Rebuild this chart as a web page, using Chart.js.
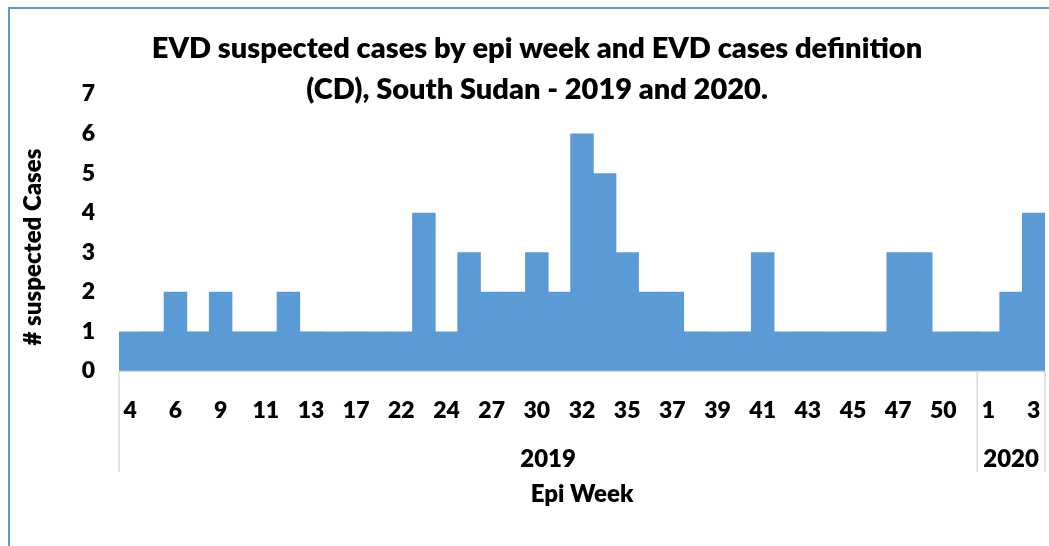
<!DOCTYPE html>
<html>
<head>
<meta charset="utf-8">
<script src="https://cdn.jsdelivr.net/npm/chart.js@4"></script>
<style>
  html, body { margin: 0; padding: 0; background: #fff; }
  #wrap { position: relative; width: 1049px; height: 546px; }
</style>
</head>
<body>
<div id="wrap"><canvas id="myChart" width="1049" height="546"></canvas></div>
<script>
// Epi weeks for each year (label shown on every other week)
const weeks2019 = [4, 5, 6, 8, 9, 10, 11, 12, 13, 14, 17, 18, 22, 23, 24, 26, 27, 28, 30, 31,
  32, 33, 35, 36, 37, 38, 39, 40, 41, 42, 43, 44, 45, 46, 47, 48, 50, 51];
const weeks2020 = [1, 2, 3];

// Suspected cases per epi week
const cases2019 = [1, 1, 2, 1, 2, 1, 1, 2, 1, 1, 1, 1, 1, 4, 1, 3, 2, 2, 3, 2,
  6, 5, 3, 2, 2, 1, 1, 1, 3, 1, 1, 1, 1, 1, 3, 3, 1, 1];
const cases2020 = [1, 2, 4];

const years = ["2019", "2020"];
const yTicks = [0, 1, 2, 3, 4, 5, 6, 7];

const titleLines = ["EVD suspected cases by epi week and EVD cases definition",
  "(CD), South Sudan - 2019 and 2020."];

const labels = weeks2019.concat(weeks2020).map(String);
const values = cases2019.concat(cases2020);
const groupSizes = [weeks2019.length, weeks2020.length];

const FONT = "Lato, 'Open Sans', sans-serif";
const WEIGHT = "800";

// Draws frame, title, year row, separators and axis titles
const decorations = {
  id: "decorations",
  afterDraw(chart) {
    const ctx = chart.ctx;
    const area = chart.chartArea;
    const x = chart.scales.x;
    const step = x.getPixelForValue(1) - x.getPixelForValue(0);

    ctx.save();
    // outer frame
    ctx.strokeStyle = "#5B9BD5";
    ctx.lineWidth = 2;
    ctx.beginPath();
    ctx.moveTo(9, 560);
    ctx.lineTo(9, 8);
    ctx.lineTo(1060, 8);
    ctx.stroke();

    // axis line and group separators
    ctx.strokeStyle = "#D9D9D9";
    ctx.lineWidth = 1.5;
    ctx.beginPath();
    ctx.moveTo(area.left, area.bottom + 0.5);
    ctx.lineTo(area.right, area.bottom + 0.5);
    let start = 0;
    const bounds = [area.left];
    groupSizes.forEach((n) => {
      start += n;
      bounds.push(x.getPixelForValue(start - 1) + step / 2);
    });
    bounds.forEach((bx) => {
      ctx.moveTo(bx, area.bottom);
      ctx.lineTo(bx, 472);
    });
    ctx.stroke();

    // year labels
    ctx.fillStyle = "#000";
    ctx.font = WEIGHT + " 24px " + FONT;
    ctx.textAlign = "center";
    ctx.textBaseline = "middle";
    years.forEach((yr, i) => {
      ctx.fillText(yr, (bounds[i] + bounds[i + 1]) / 2, 459);
    });

    // x axis title
    ctx.fillText("Epi Week", (area.left + area.right) / 2, 494);

    // y axis title
    ctx.save();
    ctx.translate(33, 247);
    ctx.rotate(-Math.PI / 2);
    ctx.fillText("# suspected Cases", 0, 0);
    ctx.restore();

    // chart title
    ctx.font = WEIGHT + " 29px " + FONT;
    ctx.fillText(titleLines[0], 537, 49);
    ctx.fillText(titleLines[1], 537, 90);
    ctx.restore();
  }
};

new Chart(document.getElementById("myChart").getContext("2d"), {
  type: "bar",
  data: {
    labels: labels,
    datasets: [{
      label: "# suspected Cases",
      data: values,
      backgroundColor: "#5B9BD5",
      borderWidth: 0,
      barPercentage: 1.04, // slight overlap hides the seams between bars
      categoryPercentage: 1
    }]
  },
  options: {
    responsive: false,
    animation: false,
    layout: { padding: { top: 94, right: 4, left: 0, bottom: 0 } },
    plugins: {
      legend: { display: false },
      title: { display: false },
      tooltip: { enabled: false }
    },
    scales: {
      x: {
        grid: { display: false },
        border: { display: false },
        ticks: {
          autoSkip: false,
          maxRotation: 0,
          padding: 18,
          color: "#000",
          font: { family: FONT, size: 23, weight: WEIGHT },
          callback: function (val, idx) { return idx % 2 === 0 ? labels[idx] : ""; }
        },
        afterFit: function (scale) {
          scale.height = 175;
          scale.paddingLeft = 0;
          scale.paddingRight = 0;
        }
      },
      y: {
        min: 0,
        max: 7,
        grid: { display: false },
        border: { display: false },
        afterBuildTicks: function (scale) { scale.ticks = yTicks.map((v) => ({ value: v })); },
        ticks: {
          padding: 16,
          color: "#000",
          font: { family: FONT, size: 23, weight: WEIGHT }
        },
        afterFit: function (scale) { scale.width = 119; }
      }
    }
  },
  plugins: [decorations]
});
</script>
</body>
</html>
